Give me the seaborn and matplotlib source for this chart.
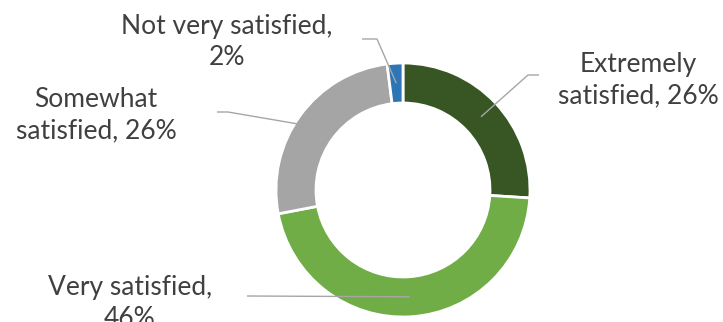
import matplotlib
matplotlib.use("Agg")
import matplotlib.pyplot as plt
import seaborn as sns
import numpy as np

# Survey satisfaction shares (percent), drawn clockwise from 12 o'clock
categories = ["Extremely satisfied", "Very satisfied", "Somewhat satisfied", "Not very satisfied"]
shares = [26, 46, 26, 2]
label_texts = ["Extremely\nsatisfied, 26%", "Very satisfied,\n46%",
               "Somewhat\nsatisfied, 26%", "Not very satisfied,\n2%"]
colors = ["#375623", "#70AD47", "#A5A5A5", "#2E75B6"]

sns.set_theme(style="white")
plt.rcParams["font.family"] = ["Lato", "DejaVu Sans"]

W, H = 723, 322
CX, CY, R = 403, 190, 127  # donut centre and outer radius in pixels


def px(x, y):
    """Pixel position -> data coordinates (unit = outer radius)."""
    return (x - CX) / R, (CY - y) / R


fig = plt.figure(figsize=(W / 100, H / 100), dpi=100)
ax = fig.add_axes([0, 0, 1, 1])
ring = 0.315
wedges, _ = ax.pie(shares, colors=colors, startangle=90, counterclock=False,
                   radius=1.0, wedgeprops=dict(width=ring, edgecolor="white", linewidth=2))

x0, y0 = px(0, H)
x1, y1 = px(W, 0)
ax.set_xlim(x0, x1)
ax.set_ylim(y0, y1)
ax.axis("off")

# label layout: elbow points of the leader line and text centre (pixels)
layout = [
    dict(path=[(528, 75), (539, 75)], text=(638, 80)),
    dict(path=[(247, 296)], text=(130, 303)),
    dict(path=[(228, 112), (217, 112)], text=(96, 115)),
    dict(path=[(377, 39), (362, 39)], text=(227, 42)),
]

mid_r = 1 - ring / 2
for w, lab, lay in zip(wedges, label_texts, layout):
    ang = np.deg2rad((w.theta1 + w.theta2) / 2)
    pts = [(mid_r * np.cos(ang), mid_r * np.sin(ang))] + [px(*p) for p in lay["path"]]
    xs, ys = zip(*pts)
    ax.plot(xs, ys, color="#A6A6A6", lw=1.0, solid_capstyle="butt", zorder=3)
    tx, ty = px(*lay["text"])
    ax.text(tx, ty, lab, ha="center", va="center", fontsize=19,
            color="#404040", linespacing=1.32)

fig.savefig("out.png", dpi=100)
